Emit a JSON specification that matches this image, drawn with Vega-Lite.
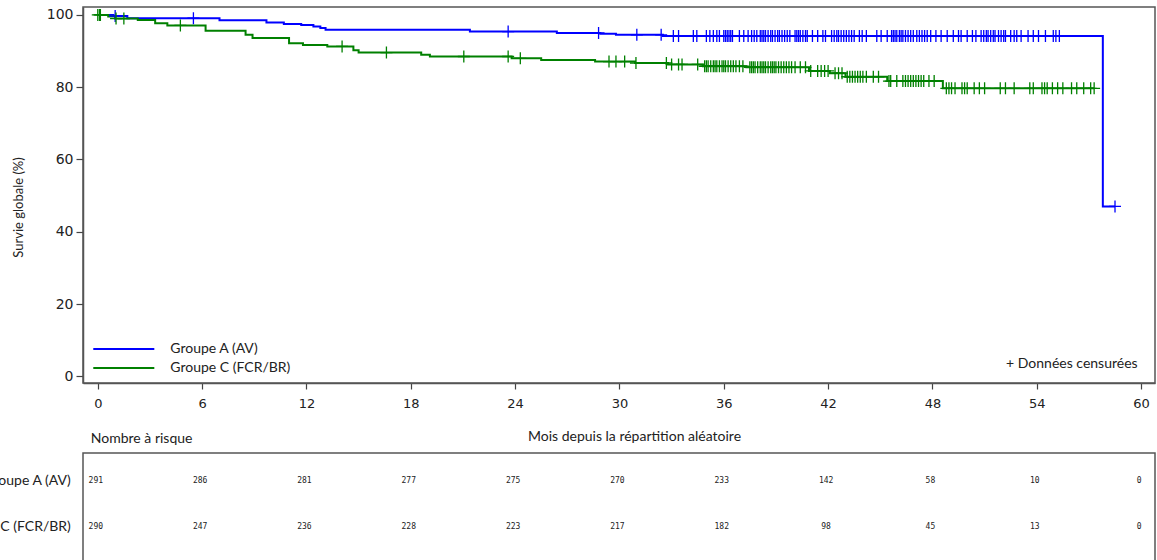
{
  "$schema": "https://vega.github.io/schema/vega-lite/v6.json",
  "padding": {"left": -51, "top": 5, "right": 0, "bottom": 0},
  "background": "white",
  "config": {
    "view": {"stroke": "#555555", "strokeWidth": 1.5},
    "font": "Lato"
  },
  "datasets": {
    "km": [
      {"groupe": "Groupe A (AV)", "mois": 0, "survie": 100},
      {"groupe": "Groupe A (AV)", "mois": 0.9, "survie": 99.7},
      {"groupe": "Groupe A (AV)", "mois": 1.7, "survie": 99.1},
      {"groupe": "Groupe A (AV)", "mois": 7.0, "survie": 98.5},
      {"groupe": "Groupe A (AV)", "mois": 9.7, "survie": 97.9},
      {"groupe": "Groupe A (AV)", "mois": 10.7, "survie": 97.5},
      {"groupe": "Groupe A (AV)", "mois": 11.7, "survie": 97.2},
      {"groupe": "Groupe A (AV)", "mois": 12.4, "survie": 96.8},
      {"groupe": "Groupe A (AV)", "mois": 12.8, "survie": 96.4},
      {"groupe": "Groupe A (AV)", "mois": 13.1, "survie": 95.9},
      {"groupe": "Groupe A (AV)", "mois": 21.4, "survie": 95.4},
      {"groupe": "Groupe A (AV)", "mois": 26.4, "survie": 95.0},
      {"groupe": "Groupe A (AV)", "mois": 28.9, "survie": 94.8},
      {"groupe": "Groupe A (AV)", "mois": 29.8, "survie": 94.5},
      {"groupe": "Groupe A (AV)", "mois": 32.5, "survie": 94.2},
      {"groupe": "Groupe A (AV)", "mois": 57.8, "survie": 47.0},
      {"groupe": "Groupe A (AV)", "mois": 58.5, "survie": 47.0},
      {"groupe": "Groupe C (FCR/BR)", "mois": 0, "survie": 100},
      {"groupe": "Groupe C (FCR/BR)", "mois": 0.6, "survie": 99.6},
      {"groupe": "Groupe C (FCR/BR)", "mois": 1.0, "survie": 99.0},
      {"groupe": "Groupe C (FCR/BR)", "mois": 2.3, "survie": 98.6},
      {"groupe": "Groupe C (FCR/BR)", "mois": 3.3, "survie": 97.7},
      {"groupe": "Groupe C (FCR/BR)", "mois": 4.0, "survie": 97.1},
      {"groupe": "Groupe C (FCR/BR)", "mois": 6.2, "survie": 95.6},
      {"groupe": "Groupe C (FCR/BR)", "mois": 8.5, "survie": 94.5},
      {"groupe": "Groupe C (FCR/BR)", "mois": 8.9, "survie": 93.6},
      {"groupe": "Groupe C (FCR/BR)", "mois": 11.0, "survie": 92.2},
      {"groupe": "Groupe C (FCR/BR)", "mois": 11.8, "survie": 91.7},
      {"groupe": "Groupe C (FCR/BR)", "mois": 13.2, "survie": 91.3},
      {"groupe": "Groupe C (FCR/BR)", "mois": 14.7, "survie": 90.2},
      {"groupe": "Groupe C (FCR/BR)", "mois": 15.0, "survie": 89.6},
      {"groupe": "Groupe C (FCR/BR)", "mois": 18.6, "survie": 89.0},
      {"groupe": "Groupe C (FCR/BR)", "mois": 19.1, "survie": 88.5},
      {"groupe": "Groupe C (FCR/BR)", "mois": 23.8, "survie": 88.0},
      {"groupe": "Groupe C (FCR/BR)", "mois": 25.5, "survie": 87.5},
      {"groupe": "Groupe C (FCR/BR)", "mois": 28.6, "survie": 87.1},
      {"groupe": "Groupe C (FCR/BR)", "mois": 30.9, "survie": 86.7},
      {"groupe": "Groupe C (FCR/BR)", "mois": 32.8, "survie": 86.3},
      {"groupe": "Groupe C (FCR/BR)", "mois": 34.8, "survie": 85.8},
      {"groupe": "Groupe C (FCR/BR)", "mois": 37.3, "survie": 85.5},
      {"groupe": "Groupe C (FCR/BR)", "mois": 40.9, "survie": 84.5},
      {"groupe": "Groupe C (FCR/BR)", "mois": 42.1, "survie": 83.9},
      {"groupe": "Groupe C (FCR/BR)", "mois": 43.0, "survie": 82.9},
      {"groupe": "Groupe C (FCR/BR)", "mois": 45.4, "survie": 81.7},
      {"groupe": "Groupe C (FCR/BR)", "mois": 48.6, "survie": 79.7},
      {"groupe": "Groupe C (FCR/BR)", "mois": 57.3, "survie": 79.7}
    ],
    "cens": [
      {"groupe": "Groupe A (AV)", "mois": 1.0, "survie": 99.7},
      {"groupe": "Groupe A (AV)", "mois": 5.5, "survie": 99.1},
      {"groupe": "Groupe A (AV)", "mois": 23.6, "survie": 95.4},
      {"groupe": "Groupe A (AV)", "mois": 28.8, "survie": 95.0},
      {"groupe": "Groupe A (AV)", "mois": 31.0, "survie": 94.5},
      {"groupe": "Groupe A (AV)", "mois": 32.4, "survie": 94.5},
      {"groupe": "Groupe A (AV)", "mois": 33.1, "survie": 94.2},
      {"groupe": "Groupe A (AV)", "mois": 33.4, "survie": 94.2},
      {"groupe": "Groupe A (AV)", "mois": 34.25, "survie": 94.2},
      {"groupe": "Groupe A (AV)", "mois": 34.45, "survie": 94.2},
      {"groupe": "Groupe A (AV)", "mois": 35.0, "survie": 94.2},
      {"groupe": "Groupe A (AV)", "mois": 35.2, "survie": 94.2},
      {"groupe": "Groupe A (AV)", "mois": 35.4, "survie": 94.2},
      {"groupe": "Groupe A (AV)", "mois": 35.6, "survie": 94.2},
      {"groupe": "Groupe A (AV)", "mois": 35.75, "survie": 94.2},
      {"groupe": "Groupe A (AV)", "mois": 36.0, "survie": 94.2},
      {"groupe": "Groupe A (AV)", "mois": 36.1, "survie": 94.2},
      {"groupe": "Groupe A (AV)", "mois": 36.2, "survie": 94.2},
      {"groupe": "Groupe A (AV)", "mois": 36.3, "survie": 94.2},
      {"groupe": "Groupe A (AV)", "mois": 36.4, "survie": 94.2},
      {"groupe": "Groupe A (AV)", "mois": 36.5, "survie": 94.2},
      {"groupe": "Groupe A (AV)", "mois": 36.9, "survie": 94.2},
      {"groupe": "Groupe A (AV)", "mois": 37.15, "survie": 94.2},
      {"groupe": "Groupe A (AV)", "mois": 37.4, "survie": 94.2},
      {"groupe": "Groupe A (AV)", "mois": 37.6, "survie": 94.2},
      {"groupe": "Groupe A (AV)", "mois": 37.75, "survie": 94.2},
      {"groupe": "Groupe A (AV)", "mois": 37.9, "survie": 94.2},
      {"groupe": "Groupe A (AV)", "mois": 38.1, "survie": 94.2},
      {"groupe": "Groupe A (AV)", "mois": 38.2, "survie": 94.2},
      {"groupe": "Groupe A (AV)", "mois": 38.3, "survie": 94.2},
      {"groupe": "Groupe A (AV)", "mois": 38.4, "survie": 94.2},
      {"groupe": "Groupe A (AV)", "mois": 38.55, "survie": 94.2},
      {"groupe": "Groupe A (AV)", "mois": 38.7, "survie": 94.2},
      {"groupe": "Groupe A (AV)", "mois": 38.8, "survie": 94.2},
      {"groupe": "Groupe A (AV)", "mois": 38.95, "survie": 94.2},
      {"groupe": "Groupe A (AV)", "mois": 39.1, "survie": 94.2},
      {"groupe": "Groupe A (AV)", "mois": 39.2, "survie": 94.2},
      {"groupe": "Groupe A (AV)", "mois": 39.35, "survie": 94.2},
      {"groupe": "Groupe A (AV)", "mois": 39.5, "survie": 94.2},
      {"groupe": "Groupe A (AV)", "mois": 39.65, "survie": 94.2},
      {"groupe": "Groupe A (AV)", "mois": 39.8, "survie": 94.2},
      {"groupe": "Groupe A (AV)", "mois": 40.1, "survie": 94.2},
      {"groupe": "Groupe A (AV)", "mois": 40.2, "survie": 94.2},
      {"groupe": "Groupe A (AV)", "mois": 40.3, "survie": 94.2},
      {"groupe": "Groupe A (AV)", "mois": 40.4, "survie": 94.2},
      {"groupe": "Groupe A (AV)", "mois": 40.55, "survie": 94.2},
      {"groupe": "Groupe A (AV)", "mois": 40.7, "survie": 94.2},
      {"groupe": "Groupe A (AV)", "mois": 40.8, "survie": 94.2},
      {"groupe": "Groupe A (AV)", "mois": 41.1, "survie": 94.2},
      {"groupe": "Groupe A (AV)", "mois": 41.4, "survie": 94.2},
      {"groupe": "Groupe A (AV)", "mois": 41.7, "survie": 94.2},
      {"groupe": "Groupe A (AV)", "mois": 41.85, "survie": 94.2},
      {"groupe": "Groupe A (AV)", "mois": 42.2, "survie": 94.2},
      {"groupe": "Groupe A (AV)", "mois": 42.35, "survie": 94.2},
      {"groupe": "Groupe A (AV)", "mois": 42.5, "survie": 94.2},
      {"groupe": "Groupe A (AV)", "mois": 42.6, "survie": 94.2},
      {"groupe": "Groupe A (AV)", "mois": 42.75, "survie": 94.2},
      {"groupe": "Groupe A (AV)", "mois": 42.9, "survie": 94.2},
      {"groupe": "Groupe A (AV)", "mois": 43.05, "survie": 94.2},
      {"groupe": "Groupe A (AV)", "mois": 43.2, "survie": 94.2},
      {"groupe": "Groupe A (AV)", "mois": 43.35, "survie": 94.2},
      {"groupe": "Groupe A (AV)", "mois": 43.5, "survie": 94.2},
      {"groupe": "Groupe A (AV)", "mois": 43.8, "survie": 94.2},
      {"groupe": "Groupe A (AV)", "mois": 43.96, "survie": 94.2},
      {"groupe": "Groupe A (AV)", "mois": 44.2, "survie": 94.2},
      {"groupe": "Groupe A (AV)", "mois": 44.8, "survie": 94.2},
      {"groupe": "Groupe A (AV)", "mois": 45.05, "survie": 94.2},
      {"groupe": "Groupe A (AV)", "mois": 45.4, "survie": 94.2},
      {"groupe": "Groupe A (AV)", "mois": 45.65, "survie": 94.2},
      {"groupe": "Groupe A (AV)", "mois": 45.75, "survie": 94.2},
      {"groupe": "Groupe A (AV)", "mois": 45.85, "survie": 94.2},
      {"groupe": "Groupe A (AV)", "mois": 45.95, "survie": 94.2},
      {"groupe": "Groupe A (AV)", "mois": 46.1, "survie": 94.2},
      {"groupe": "Groupe A (AV)", "mois": 46.2, "survie": 94.2},
      {"groupe": "Groupe A (AV)", "mois": 46.3, "survie": 94.2},
      {"groupe": "Groupe A (AV)", "mois": 46.45, "survie": 94.2},
      {"groupe": "Groupe A (AV)", "mois": 46.6, "survie": 94.2},
      {"groupe": "Groupe A (AV)", "mois": 46.75, "survie": 94.2},
      {"groupe": "Groupe A (AV)", "mois": 46.9, "survie": 94.2},
      {"groupe": "Groupe A (AV)", "mois": 47.1, "survie": 94.2},
      {"groupe": "Groupe A (AV)", "mois": 47.25, "survie": 94.2},
      {"groupe": "Groupe A (AV)", "mois": 47.4, "survie": 94.2},
      {"groupe": "Groupe A (AV)", "mois": 47.55, "survie": 94.2},
      {"groupe": "Groupe A (AV)", "mois": 47.7, "survie": 94.2},
      {"groupe": "Groupe A (AV)", "mois": 47.9, "survie": 94.2},
      {"groupe": "Groupe A (AV)", "mois": 48.2, "survie": 94.2},
      {"groupe": "Groupe A (AV)", "mois": 48.5, "survie": 94.2},
      {"groupe": "Groupe A (AV)", "mois": 48.85, "survie": 94.2},
      {"groupe": "Groupe A (AV)", "mois": 49.2, "survie": 94.2},
      {"groupe": "Groupe A (AV)", "mois": 49.5, "survie": 94.2},
      {"groupe": "Groupe A (AV)", "mois": 49.65, "survie": 94.2},
      {"groupe": "Groupe A (AV)", "mois": 50.0, "survie": 94.2},
      {"groupe": "Groupe A (AV)", "mois": 50.3, "survie": 94.2},
      {"groupe": "Groupe A (AV)", "mois": 50.5, "survie": 94.2},
      {"groupe": "Groupe A (AV)", "mois": 50.8, "survie": 94.2},
      {"groupe": "Groupe A (AV)", "mois": 50.95, "survie": 94.2},
      {"groupe": "Groupe A (AV)", "mois": 51.1, "survie": 94.2},
      {"groupe": "Groupe A (AV)", "mois": 51.2, "survie": 94.2},
      {"groupe": "Groupe A (AV)", "mois": 51.35, "survie": 94.2},
      {"groupe": "Groupe A (AV)", "mois": 51.5, "survie": 94.2},
      {"groupe": "Groupe A (AV)", "mois": 51.6, "survie": 94.2},
      {"groupe": "Groupe A (AV)", "mois": 51.8, "survie": 94.2},
      {"groupe": "Groupe A (AV)", "mois": 51.95, "survie": 94.2},
      {"groupe": "Groupe A (AV)", "mois": 52.1, "survie": 94.2},
      {"groupe": "Groupe A (AV)", "mois": 52.2, "survie": 94.2},
      {"groupe": "Groupe A (AV)", "mois": 52.5, "survie": 94.2},
      {"groupe": "Groupe A (AV)", "mois": 52.7, "survie": 94.2},
      {"groupe": "Groupe A (AV)", "mois": 52.85, "survie": 94.2},
      {"groupe": "Groupe A (AV)", "mois": 53.1, "survie": 94.2},
      {"groupe": "Groupe A (AV)", "mois": 53.5, "survie": 94.2},
      {"groupe": "Groupe A (AV)", "mois": 53.8, "survie": 94.2},
      {"groupe": "Groupe A (AV)", "mois": 54.1, "survie": 94.2},
      {"groupe": "Groupe A (AV)", "mois": 54.5, "survie": 94.2},
      {"groupe": "Groupe A (AV)", "mois": 54.95, "survie": 94.2},
      {"groupe": "Groupe A (AV)", "mois": 55.1, "survie": 94.2},
      {"groupe": "Groupe A (AV)", "mois": 55.3, "survie": 94.2},
      {"groupe": "Groupe A (AV)", "mois": 58.5, "survie": 47.0},
      {"groupe": "Groupe C (FCR/BR)", "mois": 0.0, "survie": 100},
      {"groupe": "Groupe C (FCR/BR)", "mois": 0.1, "survie": 100},
      {"groupe": "Groupe C (FCR/BR)", "mois": 0.15, "survie": 100},
      {"groupe": "Groupe C (FCR/BR)", "mois": 1.05, "survie": 99.0},
      {"groupe": "Groupe C (FCR/BR)", "mois": 1.5, "survie": 99.0},
      {"groupe": "Groupe C (FCR/BR)", "mois": 4.75, "survie": 97.1},
      {"groupe": "Groupe C (FCR/BR)", "mois": 14.05, "survie": 91.3},
      {"groupe": "Groupe C (FCR/BR)", "mois": 16.6, "survie": 89.6},
      {"groupe": "Groupe C (FCR/BR)", "mois": 21.05, "survie": 88.5},
      {"groupe": "Groupe C (FCR/BR)", "mois": 23.6, "survie": 88.5},
      {"groupe": "Groupe C (FCR/BR)", "mois": 24.3, "survie": 88.0},
      {"groupe": "Groupe C (FCR/BR)", "mois": 29.4, "survie": 87.1},
      {"groupe": "Groupe C (FCR/BR)", "mois": 29.8, "survie": 87.1},
      {"groupe": "Groupe C (FCR/BR)", "mois": 30.3, "survie": 87.1},
      {"groupe": "Groupe C (FCR/BR)", "mois": 30.95, "survie": 86.7},
      {"groupe": "Groupe C (FCR/BR)", "mois": 32.7, "survie": 86.7},
      {"groupe": "Groupe C (FCR/BR)", "mois": 33.0, "survie": 86.3},
      {"groupe": "Groupe C (FCR/BR)", "mois": 33.4, "survie": 86.3},
      {"groupe": "Groupe C (FCR/BR)", "mois": 33.6, "survie": 86.3},
      {"groupe": "Groupe C (FCR/BR)", "mois": 34.5, "survie": 86.3},
      {"groupe": "Groupe C (FCR/BR)", "mois": 34.9, "survie": 85.8},
      {"groupe": "Groupe C (FCR/BR)", "mois": 35.0, "survie": 85.8},
      {"groupe": "Groupe C (FCR/BR)", "mois": 35.1, "survie": 85.8},
      {"groupe": "Groupe C (FCR/BR)", "mois": 35.25, "survie": 85.8},
      {"groupe": "Groupe C (FCR/BR)", "mois": 35.4, "survie": 85.8},
      {"groupe": "Groupe C (FCR/BR)", "mois": 35.5, "survie": 85.8},
      {"groupe": "Groupe C (FCR/BR)", "mois": 35.6, "survie": 85.8},
      {"groupe": "Groupe C (FCR/BR)", "mois": 35.75, "survie": 85.8},
      {"groupe": "Groupe C (FCR/BR)", "mois": 35.9, "survie": 85.8},
      {"groupe": "Groupe C (FCR/BR)", "mois": 36.0, "survie": 85.8},
      {"groupe": "Groupe C (FCR/BR)", "mois": 36.1, "survie": 85.8},
      {"groupe": "Groupe C (FCR/BR)", "mois": 36.25, "survie": 85.8},
      {"groupe": "Groupe C (FCR/BR)", "mois": 36.4, "survie": 85.8},
      {"groupe": "Groupe C (FCR/BR)", "mois": 36.55, "survie": 85.8},
      {"groupe": "Groupe C (FCR/BR)", "mois": 36.7, "survie": 85.8},
      {"groupe": "Groupe C (FCR/BR)", "mois": 36.9, "survie": 85.8},
      {"groupe": "Groupe C (FCR/BR)", "mois": 37.1, "survie": 85.8},
      {"groupe": "Groupe C (FCR/BR)", "mois": 37.5, "survie": 85.5},
      {"groupe": "Groupe C (FCR/BR)", "mois": 37.6, "survie": 85.5},
      {"groupe": "Groupe C (FCR/BR)", "mois": 37.7, "survie": 85.5},
      {"groupe": "Groupe C (FCR/BR)", "mois": 37.8, "survie": 85.5},
      {"groupe": "Groupe C (FCR/BR)", "mois": 37.95, "survie": 85.5},
      {"groupe": "Groupe C (FCR/BR)", "mois": 38.1, "survie": 85.5},
      {"groupe": "Groupe C (FCR/BR)", "mois": 38.2, "survie": 85.5},
      {"groupe": "Groupe C (FCR/BR)", "mois": 38.3, "survie": 85.5},
      {"groupe": "Groupe C (FCR/BR)", "mois": 38.4, "survie": 85.5},
      {"groupe": "Groupe C (FCR/BR)", "mois": 38.55, "survie": 85.5},
      {"groupe": "Groupe C (FCR/BR)", "mois": 38.7, "survie": 85.5},
      {"groupe": "Groupe C (FCR/BR)", "mois": 38.8, "survie": 85.5},
      {"groupe": "Groupe C (FCR/BR)", "mois": 38.9, "survie": 85.5},
      {"groupe": "Groupe C (FCR/BR)", "mois": 39.0, "survie": 85.5},
      {"groupe": "Groupe C (FCR/BR)", "mois": 39.15, "survie": 85.5},
      {"groupe": "Groupe C (FCR/BR)", "mois": 39.3, "survie": 85.5},
      {"groupe": "Groupe C (FCR/BR)", "mois": 39.45, "survie": 85.5},
      {"groupe": "Groupe C (FCR/BR)", "mois": 39.6, "survie": 85.5},
      {"groupe": "Groupe C (FCR/BR)", "mois": 39.75, "survie": 85.5},
      {"groupe": "Groupe C (FCR/BR)", "mois": 39.9, "survie": 85.5},
      {"groupe": "Groupe C (FCR/BR)", "mois": 40.1, "survie": 85.5},
      {"groupe": "Groupe C (FCR/BR)", "mois": 40.4, "survie": 85.5},
      {"groupe": "Groupe C (FCR/BR)", "mois": 40.7, "survie": 85.5},
      {"groupe": "Groupe C (FCR/BR)", "mois": 41.0, "survie": 84.5},
      {"groupe": "Groupe C (FCR/BR)", "mois": 41.4, "survie": 84.5},
      {"groupe": "Groupe C (FCR/BR)", "mois": 41.6, "survie": 84.5},
      {"groupe": "Groupe C (FCR/BR)", "mois": 41.8, "survie": 84.5},
      {"groupe": "Groupe C (FCR/BR)", "mois": 42.0, "survie": 84.5},
      {"groupe": "Groupe C (FCR/BR)", "mois": 42.4, "survie": 83.9},
      {"groupe": "Groupe C (FCR/BR)", "mois": 42.6, "survie": 83.9},
      {"groupe": "Groupe C (FCR/BR)", "mois": 42.8, "survie": 83.9},
      {"groupe": "Groupe C (FCR/BR)", "mois": 43.1, "survie": 82.9},
      {"groupe": "Groupe C (FCR/BR)", "mois": 43.25, "survie": 82.9},
      {"groupe": "Groupe C (FCR/BR)", "mois": 43.4, "survie": 82.9},
      {"groupe": "Groupe C (FCR/BR)", "mois": 43.55, "survie": 82.9},
      {"groupe": "Groupe C (FCR/BR)", "mois": 43.7, "survie": 82.9},
      {"groupe": "Groupe C (FCR/BR)", "mois": 43.85, "survie": 82.9},
      {"groupe": "Groupe C (FCR/BR)", "mois": 44.0, "survie": 82.9},
      {"groupe": "Groupe C (FCR/BR)", "mois": 44.2, "survie": 82.9},
      {"groupe": "Groupe C (FCR/BR)", "mois": 44.6, "survie": 82.9},
      {"groupe": "Groupe C (FCR/BR)", "mois": 44.9, "survie": 82.9},
      {"groupe": "Groupe C (FCR/BR)", "mois": 45.5, "survie": 81.7},
      {"groupe": "Groupe C (FCR/BR)", "mois": 45.6, "survie": 81.7},
      {"groupe": "Groupe C (FCR/BR)", "mois": 45.95, "survie": 81.7},
      {"groupe": "Groupe C (FCR/BR)", "mois": 46.3, "survie": 81.7},
      {"groupe": "Groupe C (FCR/BR)", "mois": 46.45, "survie": 81.7},
      {"groupe": "Groupe C (FCR/BR)", "mois": 46.6, "survie": 81.7},
      {"groupe": "Groupe C (FCR/BR)", "mois": 46.75, "survie": 81.7},
      {"groupe": "Groupe C (FCR/BR)", "mois": 46.9, "survie": 81.7},
      {"groupe": "Groupe C (FCR/BR)", "mois": 47.05, "survie": 81.7},
      {"groupe": "Groupe C (FCR/BR)", "mois": 47.2, "survie": 81.7},
      {"groupe": "Groupe C (FCR/BR)", "mois": 47.35, "survie": 81.7},
      {"groupe": "Groupe C (FCR/BR)", "mois": 47.5, "survie": 81.7},
      {"groupe": "Groupe C (FCR/BR)", "mois": 47.8, "survie": 81.7},
      {"groupe": "Groupe C (FCR/BR)", "mois": 48.1, "survie": 81.7},
      {"groupe": "Groupe C (FCR/BR)", "mois": 48.8, "survie": 79.7},
      {"groupe": "Groupe C (FCR/BR)", "mois": 48.95, "survie": 79.7},
      {"groupe": "Groupe C (FCR/BR)", "mois": 49.1, "survie": 79.7},
      {"groupe": "Groupe C (FCR/BR)", "mois": 49.3, "survie": 79.7},
      {"groupe": "Groupe C (FCR/BR)", "mois": 49.7, "survie": 79.7},
      {"groupe": "Groupe C (FCR/BR)", "mois": 49.85, "survie": 79.7},
      {"groupe": "Groupe C (FCR/BR)", "mois": 50.0, "survie": 79.7},
      {"groupe": "Groupe C (FCR/BR)", "mois": 50.4, "survie": 79.7},
      {"groupe": "Groupe C (FCR/BR)", "mois": 50.7, "survie": 79.7},
      {"groupe": "Groupe C (FCR/BR)", "mois": 51.0, "survie": 79.7},
      {"groupe": "Groupe C (FCR/BR)", "mois": 51.9, "survie": 79.7},
      {"groupe": "Groupe C (FCR/BR)", "mois": 52.2, "survie": 79.7},
      {"groupe": "Groupe C (FCR/BR)", "mois": 52.7, "survie": 79.7},
      {"groupe": "Groupe C (FCR/BR)", "mois": 53.6, "survie": 79.7},
      {"groupe": "Groupe C (FCR/BR)", "mois": 53.8, "survie": 79.7},
      {"groupe": "Groupe C (FCR/BR)", "mois": 54.3, "survie": 79.7},
      {"groupe": "Groupe C (FCR/BR)", "mois": 54.45, "survie": 79.7},
      {"groupe": "Groupe C (FCR/BR)", "mois": 54.6, "survie": 79.7},
      {"groupe": "Groupe C (FCR/BR)", "mois": 54.9, "survie": 79.7},
      {"groupe": "Groupe C (FCR/BR)", "mois": 55.2, "survie": 79.7},
      {"groupe": "Groupe C (FCR/BR)", "mois": 55.5, "survie": 79.7},
      {"groupe": "Groupe C (FCR/BR)", "mois": 56.0, "survie": 79.7},
      {"groupe": "Groupe C (FCR/BR)", "mois": 56.3, "survie": 79.7},
      {"groupe": "Groupe C (FCR/BR)", "mois": 56.7, "survie": 79.7},
      {"groupe": "Groupe C (FCR/BR)", "mois": 57.1, "survie": 79.7},
      {"groupe": "Groupe C (FCR/BR)", "mois": 57.3, "survie": 79.7}
    ],
    "risque": [
      {"groupe": "Groupe A (AV)", "mois": 0, "n": 291},
      {"groupe": "Groupe A (AV)", "mois": 6, "n": 286},
      {"groupe": "Groupe A (AV)", "mois": 12, "n": 281},
      {"groupe": "Groupe A (AV)", "mois": 18, "n": 277},
      {"groupe": "Groupe A (AV)", "mois": 24, "n": 275},
      {"groupe": "Groupe A (AV)", "mois": 30, "n": 270},
      {"groupe": "Groupe A (AV)", "mois": 36, "n": 233},
      {"groupe": "Groupe A (AV)", "mois": 42, "n": 142},
      {"groupe": "Groupe A (AV)", "mois": 48, "n": 58},
      {"groupe": "Groupe A (AV)", "mois": 54, "n": 10},
      {"groupe": "Groupe A (AV)", "mois": 60, "n": 0},
      {"groupe": "Groupe C (FCR/BR)", "mois": 0, "n": 290},
      {"groupe": "Groupe C (FCR/BR)", "mois": 6, "n": 247},
      {"groupe": "Groupe C (FCR/BR)", "mois": 12, "n": 236},
      {"groupe": "Groupe C (FCR/BR)", "mois": 18, "n": 228},
      {"groupe": "Groupe C (FCR/BR)", "mois": 24, "n": 223},
      {"groupe": "Groupe C (FCR/BR)", "mois": 30, "n": 217},
      {"groupe": "Groupe C (FCR/BR)", "mois": 36, "n": 182},
      {"groupe": "Groupe C (FCR/BR)", "mois": 42, "n": 98},
      {"groupe": "Groupe C (FCR/BR)", "mois": 48, "n": 45},
      {"groupe": "Groupe C (FCR/BR)", "mois": 54, "n": 13},
      {"groupe": "Groupe C (FCR/BR)", "mois": 60, "n": 0}
    ]
  },
  "spacing": 17,
  "vconcat": [
    {
      "width": 1072,
      "height": 376,
      "layer": [
        {
          "data": {"name": "km"},
          "mark": {"type": "line", "interpolate": "step-after", "strokeWidth": 2},
          "encoding": {
            "x": {
              "field": "mois", "type": "quantitative",
              "scale": {"domain": [-0.85, 60.8], "nice": false, "zero": false},
              "axis": {
                "values": [0, 6, 12, 18, 24, 30, 36, 42, 48, 54, 60],
                "title": null, "grid": false, "tickSize": 6, "labelPadding": 8,
                "labelFont": "DejaVu Sans", "labelFontSize": 13, "labelColor": "#222222",
                "domainColor": "#555555", "domainWidth": 1.5, "tickColor": "#444444", "tickWidth": 1.2
              }
            },
            "y": {
              "field": "survie", "type": "quantitative",
              "scale": {"domain": [-1.85, 102.2], "nice": false, "zero": false},
              "axis": {
                "values": [0, 20, 40, 60, 80, 100],
                "title": "Survie globale (%)", "grid": false, "tickSize": 7, "labelPadding": 3,
                "labelFont": "DejaVu Sans", "labelFontSize": 14, "labelColor": "#222222",
                "titleFont": "Lato", "titleFontSize": 13, "titleFontWeight": "normal", "titleColor": "#222222",
                "titlePadding": 21, "titleY": 200,
                "domainColor": "#555555", "domainWidth": 1.5, "tickColor": "#444444", "tickWidth": 1.2
              }
            },
            "color": {
              "field": "groupe", "type": "nominal",
              "scale": {"domain": ["Groupe A (AV)", "Groupe C (FCR/BR)"], "range": ["#0000ff", "#008000"]},
              "legend": {
                "title": null, "orient": "none", "legendX": 32.8, "legendY": 334,
                "symbolType": "M-4.36,0H4.36", "symbolSize": 196, "symbolStrokeWidth": 2,
                "labelFont": "Lato", "labelFontSize": 14, "labelColor": "#222222",
                "labelOffset": 38.5, "rowPadding": 4, "padding": 0
              }
            }
          }
        },
        {
          "data": {"name": "cens"},
          "mark": {"type": "point", "shape": "M-1,0H1M0,-1V1", "size": 144, "filled": false, "strokeWidth": 1.3, "opacity": 1},
          "encoding": {
            "x": {"field": "mois", "type": "quantitative"},
            "y": {"field": "survie", "type": "quantitative"},
            "color": {"field": "groupe", "type": "nominal", "legend": null}
          }
        },
        {
          "data": {"values": [{}]},
          "mark": {"type": "text", "align": "right", "baseline": "middle", "font": "Lato", "fontSize": 14, "color": "#222222"},
          "encoding": {
            "x": {"datum": 59.8},
            "y": {"datum": 3.3},
            "text": {"value": "+ Données censurées"}
          }
        }
      ]
    },
    {
      "width": 1072,
      "height": 120,
      "data": {"name": "risque"},
      "mark": {"type": "text", "font": "DejaVu Sans Mono", "fontSize": 8, "color": "#222222", "dx": -2},
      "encoding": {
        "x": {
          "field": "mois", "type": "quantitative",
          "scale": {"domain": [-0.85, 60.8], "nice": false, "zero": false},
          "axis": {
            "orient": "top", "labels": false, "ticks": false, "domain": false, "grid": false,
            "title": "Mois depuis la répartition aléatoire", "titleFont": "Lato", "titleFontSize": 14,
            "titleFontWeight": "normal", "titleColor": "#222222", "titlePadding": 10, "titleX": 551
          }
        },
        "y": {
          "field": "groupe", "type": "nominal",
          "scale": {"type": "point", "domain": ["Groupe A (AV)", "Groupe C (FCR/BR)"], "padding": 0.804, "align": 0.378},
          "axis": {
            "title": "Nombre à risque", "titleAngle": 0, "titleX": 7.3, "titleY": -15, "titleAlign": "left", "titleBaseline": "middle",
            "titleFont": "Lato", "titleFontSize": 14, "titleFontWeight": "normal", "titleColor": "#222222",
            "ticks": false, "domain": false, "labelPadding": 12.7,
            "labelFont": "Lato", "labelFontSize": 14, "labelColor": "#222222"
          }
        },
        "text": {"field": "n", "type": "quantitative"}
      }
    }
  ]
}
